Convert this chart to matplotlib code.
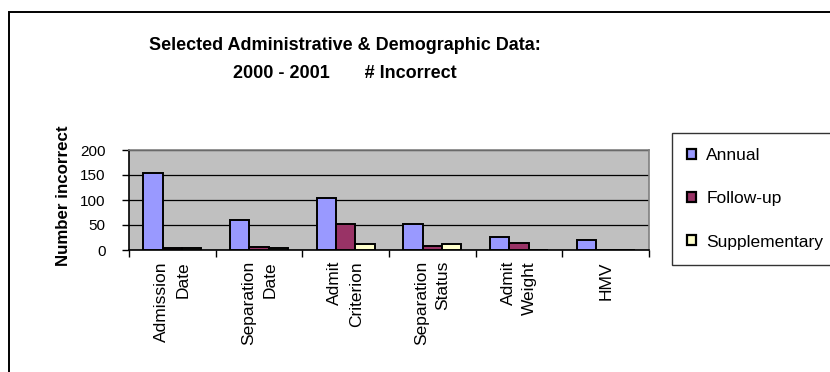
import matplotlib
matplotlib.use("Agg")
import matplotlib.pyplot as plt
import numpy as np
from matplotlib.patches import Patch, Rectangle

plt.rcParams['font.family'] = ['Liberation Sans', 'DejaVu Sans']

# counts of incorrect records per data item
categories = ['Admission\nDate', 'Separation\nDate', 'Admit\nCriterion',
              'Separation\nStatus', 'Admit\nWeight', 'HMV']
annual = [155, 60, 105, 52, 26, 20]
follow_up = [5, 7, 52, 8, 14, 0]
supplementary = [5, 5, 13, 12, 0, 0]
series_names = ['Annual', 'Follow-up', 'Supplementary']
series_colors = ['#9999FF', '#993366', '#FFFFCC']

W, H = 830, 372
fig = plt.figure(figsize=(W / 100, H / 100), dpi=100)

# chart border (only left and top edges fall inside the canvas)
fig.patches.append(Rectangle((9 / W, -0.1), 1.2, 1 - 12 / H + 0.1,
                             transform=fig.transFigure, fill=False,
                             edgecolor='black', linewidth=1.4))

ax = fig.add_axes([129 / W, 1 - 250 / H, 520 / W, 100 / H])
ax.set_facecolor('#C0C0C0')

x = np.arange(len(categories))
w = 1 / 4.5
for k, (vals, name, col) in enumerate(zip([annual, follow_up, supplementary],
                                          series_names, series_colors)):
    ax.bar(x + (k - 1) * w, vals, w, color=col, edgecolor='black',
           linewidth=1.4, label=name, zorder=3)

ax.set_xlim(-0.5, len(categories) - 0.5)
ax.set_ylim(0, 200)
ax.set_yticks(np.arange(0, 201, 50))
ax.yaxis.grid(True, color='black', linewidth=0.9, zorder=1)
ax.set_axisbelow(True)

# category labels at centres, tick marks between categories
ax.set_xticks(np.arange(-0.5, len(categories), 1))
ax.set_xticklabels([])
ax.set_xticks(x, minor=True)
ax.set_xticklabels(categories, minor=True, rotation=90, fontsize=12.5,
                   linespacing=1.55)
for t in ax.get_xticklabels(minor=True):
    t.set_multialignment('right')
ax.tick_params(axis='x', which='major', length=5, width=1, direction='out')
ax.tick_params(axis='x', which='minor', length=0, pad=8)
ax.tick_params(axis='y', length=5, width=1, labelsize=11, pad=12)

for s in ['left', 'bottom']:
    ax.spines[s].set_color('black')
    ax.spines[s].set_linewidth(1.2)
for s in ['top', 'right']:
    ax.spines[s].set_color('#808080')
    ax.spines[s].set_linewidth(1.2)

fig.text(63 / W, 1 - 196 / H, 'Number incorrect', rotation=90,
         ha='center', va='center', fontsize=12.2, fontweight='bold')

fig.text(345 / W, 1 - 45 / H, 'Selected Administrative & Demographic Data:',
         ha='center', va='center', fontsize=13, fontweight='bold')
fig.text(345 / W, 1 - 74 / H, '2000 - 2001       # Incorrect',
         ha='center', va='center', fontsize=13, fontweight='bold')

handles = [Patch(facecolor=c, edgecolor='black', linewidth=1.6)
           for c in series_colors]
leg = fig.legend(handles, series_names, loc='upper left',
                 bbox_to_anchor=(672 / W, 1 - 133 / H), fontsize=12.5,
                 frameon=True, fancybox=False, shadow=False,
                 handlelength=0.5, handleheight=0.5, handletextpad=0.6,
                 labelspacing=1.62, borderpad=0.88, borderaxespad=0)
leg.get_frame().set_edgecolor('black')
leg.get_frame().set_linewidth(1.0)

fig.savefig('out.png', dpi=100)
